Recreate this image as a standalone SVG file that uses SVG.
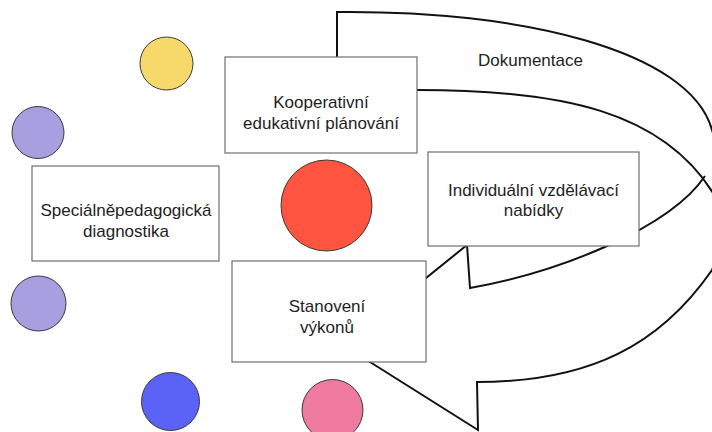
<svg xmlns="http://www.w3.org/2000/svg" width="712" height="432" viewBox="0 0 712 432">
  <style>
    .band { fill: none; stroke: #111; stroke-width: 2; stroke-linejoin: miter; }
    .box { fill: #fff; stroke: #6e6e6e; stroke-width: 1.2; }
    .label { font-family: "Liberation Sans", Arial, sans-serif; font-size: 17px; fill: #1e1e1e; text-anchor: middle; }
    .dot { stroke: #3a3a3a; stroke-width: 1; }
  </style>
  <rect width="712" height="432" fill="#fff"/>

  <!-- decorative circles -->
  <g id="circle-yellow"><circle class="dot" cx="166.5" cy="63.5" r="26.5" fill="#F7D86B"/></g>
  <g id="circle-lavender-top"><circle class="dot" cx="38" cy="132.5" r="26" fill="#A79FE0"/></g>
  <g id="circle-lavender-bottom"><circle class="dot" cx="38.5" cy="303.5" r="27.5" fill="#A79FE0"/></g>
  <g id="circle-blue"><circle class="dot" cx="170.5" cy="401.5" r="29" fill="#5B62F6"/></g>
  <g id="circle-red"><circle class="dot" cx="326.5" cy="205.5" r="45.5" fill="#FF5540"/></g>
  <g id="circle-pink"><circle class="dot" cx="332.5" cy="410" r="30.5" fill="#F07BA0"/></g>

  <!-- curved return arrow -->
  <g id="connectors">
    <path class="band" d="M 337 90 L 337 12 C 520 10 690 50 712 130 C 725 170 730 230 712 270 C 660 345 590 382 477 382 L 478 430 L 343 345 L 467 245 L 470 288 C 560 272 670 228 705 176"/>
    <path class="band" d="M 337 90 L 400 90 C 560 88 670 110 720 205"/>
    <text class="label" x="530.5" y="66">Dokumentace</text>
  </g>

  <g id="node-planovani">
    <rect class="box" x="225" y="57" width="192" height="96"/>
    <text class="label" x="321" y="108">Kooperativní</text>
    <text class="label" x="321" y="129">edukativní plánování</text>
  </g>

  <g id="node-nabidky">
    <rect class="box" x="428" y="152" width="211" height="94"/>
    <text class="label" x="533.5" y="196">Individuální vzdělávací</text>
    <text class="label" x="533.5" y="216">nabídky</text>
  </g>

  <g id="node-vykony">
    <rect class="box" x="232" y="261" width="194" height="101"/>
    <text class="label" x="327" y="312">Stanovení</text>
    <text class="label" x="327" y="333">výkonů</text>
  </g>

  <g id="node-diagnostika">
    <rect class="box" x="32" y="166" width="187" height="95"/>
    <text class="label" x="126" y="216">Speciálněpedagogická</text>
    <text class="label" x="126" y="237">diagnostika</text>
  </g>
</svg>
